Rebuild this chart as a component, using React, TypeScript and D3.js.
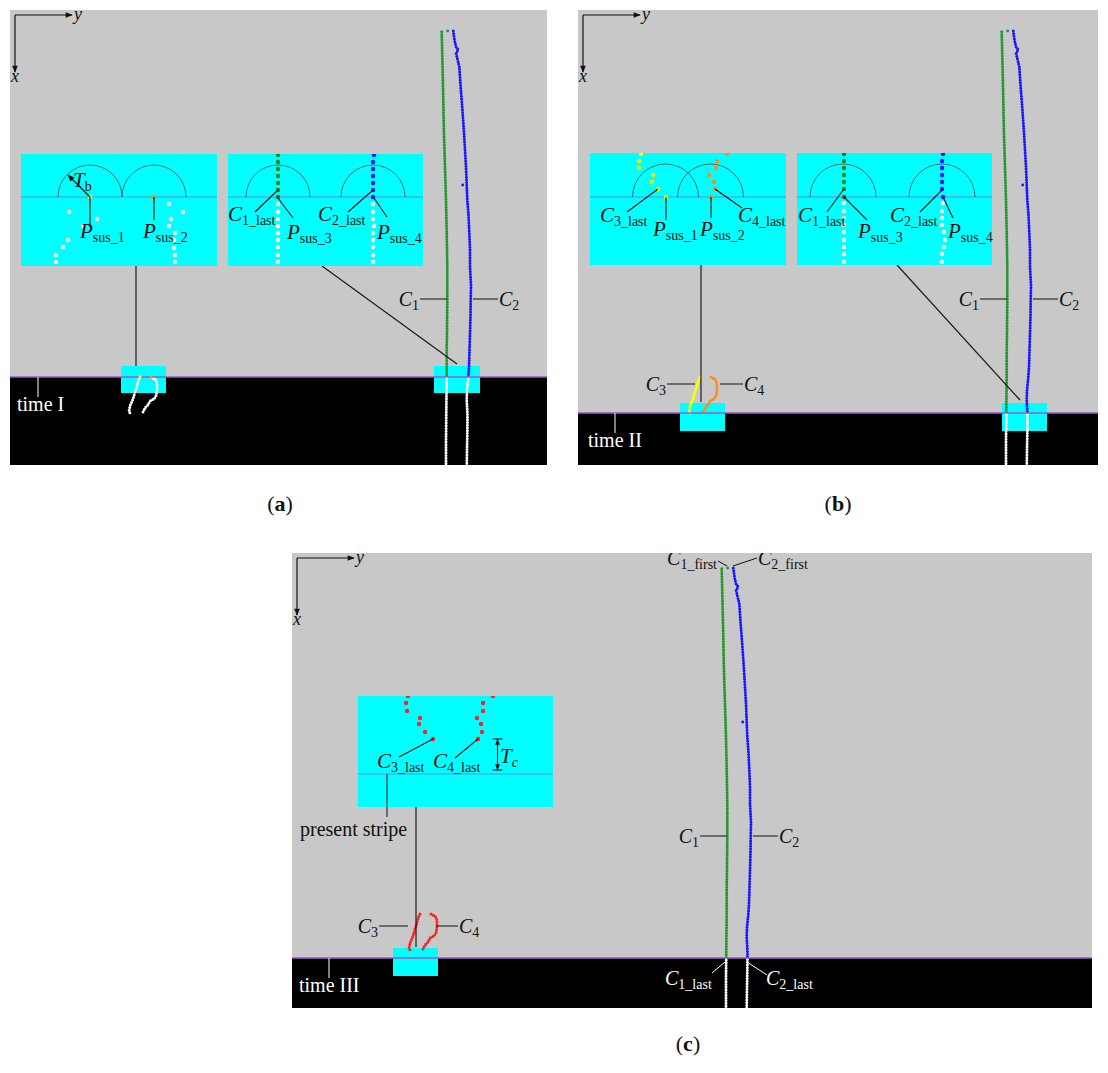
import React from 'react';
import * as d3 from 'd3';

type Pt = [number, number];
type Dot = [number, number, string];
// [main, sub, anchor, textX, textY, x1, y1, x2, y2]
type Label = [string, string, string, number, number, number, number, number, number];

const SERIF = '"Liberation Serif", "Times New Roman", "DejaVu Serif", serif';

const GRAY = '#c8c8c8';
const CYAN = '#00ffff';
const STRIPE = '#9a58d2';
const INSET_LINE = '#6d8ae0';
const GREEN = '#22962a';
const BLUE = '#1717ff';
const dotColors: Record<string, string> = {
  w: '#ffffff',
  y: '#ffff00',
  o: '#ff8a1e',
  g: '#1f821f',
  G: '#3a6a1c',
  b: '#1717ff',
  r: '#ff2020',
};

// ---- panels (page px) ----
const panelNames = ['a', 'b', 'c'];
const panelLeft = [10, 578, 292];
const panelTop = [10, 10, 553];
const panelWidth = [537, 520, 800];
const panelHeight = [455, 455, 455];
// image frame -> page offset
const imgDX = [10, 570, 290];
const imgDY = [10, 10, 547];
// row where the black part starts
const stripeRow = [367, 403, 411];
const timeLabels = ['time I', 'time II', 'time III'];
const timeTextDX = [7, 10, 7];
const timeTickDX = [28, 37, 37];
const captionX = [280, 838, 688];
const captionY = [511, 511, 1051];
const c3Color = ['#ffff00', '#ffff00', '#ff2020'];
const c4Color = ['#ff8a1e', '#ff8a1e', '#ff2020'];

// ---- tracks in image coords [col, row] ----
const trackC1: Pt[] = [
  [431.7, 21.7], [432.5, 55], [433.3, 90], [434, 125], [435, 157], [436, 190],
  [436.7, 223], [437.3, 257], [437.3, 290], [437, 320], [436.7, 340], [436.7, 367],
  [436.3, 400], [436, 430], [436, 462],
];
const trackC2: Pt[] = [
  [443.3, 21], [444.5, 30], [446, 36.7], [448.3, 40], [446, 43], [449.3, 56.7],
  [450.5, 75], [451.7, 90], [453, 108], [454, 123], [455, 140], [456, 157],
  [457.3, 190], [458.5, 205], [459.3, 223], [460, 240], [460, 257], [461, 275],
  [460.7, 290], [460.5, 305], [460, 323], [459.5, 340], [459, 357], [458.3, 367],
  [457, 380], [456.7, 390], [457.5, 405], [457.3, 423], [457, 440], [456.7, 462],
];
const trackC3: Pt[] = [
  [130, 367], [128, 371], [127, 376], [125, 382], [123, 389], [120, 396], [119, 401], [121, 405],
];
const trackC4: Pt[] = [
  [141, 367], [145, 369], [147, 373], [147, 380], [146, 386], [144, 389],
  [140, 391], [138, 395], [135, 398], [132, 404],
];
const strayDots: Dot[] = [[437.7, 21, 'g'], [452.7, 175, 'b']];
const susDotsA: Dot[] = [[130, 367, 'y'], [141, 367, 'o']];

// small cyan windows per panel [col, row, w, h]
const boxes: number[][][] = [
  [[111, 356, 45, 27], [424, 356, 46, 27]],
  [[110, 393, 45, 28], [432, 393, 45, 28]],
  [[103, 401, 45, 28]],
];
// connectors [insetIndex, insetLocalX, col, row]
const connectors: number[][][] = [
  [[0, 115, 126, 356], [1, 94, 447, 354]],
  [[2, 111, 131, 392], [3, 100, 450, 390]],
  [[4, 58, 126, 400]],
];
const trackLabelsCommon: Label[] = [
  ['C', '1', 'end', 409, 296, 410, 289, 437, 289],
  ['C', '2', 'start', 489, 296, 463, 289, 488, 289],
];
const trackLabelsExtra: Label[][] = [
  [],
  [
    ['C', '3', 'end', 96, 381, 97, 374, 125, 374],
    ['C', '4', 'start', 174, 381, 150, 374, 173, 374],
  ],
  [
    ['C', '3', 'end', 88, 386, 89, 379, 118, 379],
    ['C', '4', 'start', 169, 386, 146, 379, 168, 379],
    ['C', '1_first', 'end', 427, 18, 428, 14, 437, 19],
    ['C', '2_first', 'start', 468, 18, 443, 19, 467, 11],
    ['C', '1_last', 'start', 375, 438, 435, 415, 422, 426],
    ['C', '2_last', 'start', 476, 438, 457, 415, 477, 428],
  ],
];

// ---- magnified insets (page px, local coords inside) ----
const insetNames = ['a1', 'a2', 'b1', 'b2', 'c1'];
const insetLeft = [21, 228, 590, 797, 358];
const insetTop = [154, 154, 153, 153, 696];
const insetWidth = [196, 195, 196, 195, 195];
const insetHeight = [112, 112, 112, 112, 111];
const insetLineY = [43, 43, 44, 44, 78];
const insetArcs: number[][] = [[69, 133], [50, 145], [75.5, 120.5], [46, 145], []];
const insetArcR = [32, 32, 33, 33, 0];

const insetDots: Dot[][] = [
  [
    [69, 43, 'y'], [133, 43, 'o'],
    [48, 58, 'w'], [76, 65, 'w'], [62, 72, 'w'], [47, 86, 'w'], [42, 93, 'w'], [35, 101, 'w'], [35, 108, 'w'],
    [148, 50, 'w'], [162, 58, 'w'], [150, 65, 'w'], [148, 72, 'w'], [154, 79, 'w'], [153, 86, 'w'],
    [153, 94, 'w'], [154, 101, 'w'], [154, 108, 'w'],
  ],
  [
    [50, 1, 'g'], [50, 8, 'g'], [50, 15, 'g'], [50, 22, 'g'], [50, 29, 'g'], [50, 36, 'g'], [50, 43, 'G'],
    [50, 50, 'w'], [50, 58, 'w'], [50, 65, 'w'], [50, 72, 'w'], [50, 79, 'w'], [50, 86, 'w'],
    [50, 93, 'w'], [50, 101, 'w'], [50, 108, 'w'],
    [146, 1, 'b'], [145, 8, 'b'], [145, 15, 'b'], [145, 22, 'b'], [145, 29, 'b'], [145, 36, 'b'], [145, 43, 'b'],
    [145, 50, 'w'], [145, 58, 'w'], [145, 65, 'w'], [146, 72, 'w'], [145, 79, 'w'], [145, 86, 'w'],
    [145, 93, 'w'], [145, 101, 'w'], [145, 108, 'w'],
  ],
  [
    [51, 1, 'y'], [49, 8, 'y'], [49, 15, 'y'], [63, 22, 'y'], [62, 29, 'y'], [68, 36, 'y'], [76, 44, 'y'],
    [137, 1, 'o'], [127, 8, 'o'], [126, 15, 'o'], [119, 22, 'o'], [124, 29, 'o'], [125, 36, 'o'], [121, 44, 'o'],
  ],
  [
    [47, 1, 'g'], [47, 8, 'g'], [47, 15, 'g'], [47, 22, 'g'], [47, 29, 'g'], [47, 36, 'g'], [47, 44, 'G'],
    [47, 50, 'w'], [47, 58, 'w'], [47, 65, 'w'], [47, 72, 'w'], [47, 79, 'w'], [47, 87, 'w'],
    [47, 94, 'w'], [47, 101, 'w'], [47, 109, 'w'],
    [146, 1, 'b'], [145, 8, 'b'], [145, 15, 'b'], [145, 22, 'b'], [145, 29, 'b'], [145, 36, 'b'], [146, 44, 'b'],
    [146, 50, 'w'], [145, 58, 'w'], [145, 65, 'w'], [145, 72, 'w'], [147, 79, 'w'], [148, 87, 'w'],
    [147, 94, 'w'], [145, 101, 'w'], [145, 109, 'w'],
  ],
  [
    [50, 0, 'r'], [48, 7, 'r'], [49, 15, 'r'], [62, 22, 'r'], [61, 28, 'r'], [67, 36, 'r'], [75, 43, 'r'],
    [135, 0, 'r'], [125, 7, 'r'], [125, 15, 'r'], [119, 22, 'r'], [123, 28, 'r'], [124, 36, 'r'], [120, 43, 'r'],
  ],
];

const insetLabels: Label[][] = [
  [
    ['P', 'sus_1', 'start', 59, 84, 69, 43, 69, 73],
    ['P', 'sus_2', 'start', 122, 84, 133, 43, 133, 66],
  ],
  [
    ['C', '1_last', 'start', 0, 67, 50, 36, 27, 58],
    ['P', 'sus_3', 'start', 59, 85, 50, 44, 65, 64],
    ['C', '2_last', 'start', 90, 67, 145, 36, 120, 58],
    ['P', 'sus_4', 'start', 149, 85, 146, 44, 159, 63],
  ],
  [
    ['C', '3_last', 'start', 10, 69, 68, 36, 37, 59],
    ['P', 'sus_1', 'start', 63, 83, 76, 44, 76, 67],
    ['P', 'sus_2', 'start', 110, 83, 121, 44, 121, 65],
    ['C', '4_last', 'start', 148, 69, 125, 36, 152, 55],
  ],
  [
    ['C', '1_last', 'start', 1, 69, 47, 36, 30, 59],
    ['P', 'sus_3', 'start', 61, 85, 47, 44, 70, 67],
    ['C', '2_last', 'start', 93, 69, 146, 36, 123, 59],
    ['P', 'sus_4', 'start', 151, 85, 146, 44, 156, 65],
  ],
  [
    ['C', '3_last', 'start', 19, 72, 75, 43, 41, 61],
    ['C', '4_last', 'start', 75, 72, 120, 43, 97, 62],
  ],
];
// T_b radius arrow in inset a1 [x1, y1, x2, y2, textX, textY]
const tbArrow = [69, 43, 47, 21, 52, 33];
// T_c gap in inset c1 [x, yTop, yBottom, textX, textY]
const tcGap = [139.5, 43, 74, 142, 67];
// "present stripe" note under inset c1 [tickX, tickY1, tickY2, textX, textY]
const stripeNote = [29, 78, 121, -58, 140];

const SubText = ({ x, y, main, sub, anchor = 'start', size = 20, subSize = 13, fill = '#111', subItalic = false }: any) => (
  <text x={x} y={y} fontSize={size} fill={fill} textAnchor={anchor} fontFamily={SERIF}>
    <tspan fontStyle="italic">{main}</tspan>
    <tspan fontSize={subSize} dy={4} fontStyle={subItalic ? 'italic' : 'normal'}>{sub}</tspan>
  </text>
);

const Panel = ({ i }: { i: number }) => {
  const n = panelNames[i];
  const x0 = panelLeft[i];
  const y0 = panelTop[i];
  const w = panelWidth[i];
  const h = panelHeight[i];
  const xs = d3.scaleLinear().domain([0, 100]).range([imgDX[i], imgDX[i] + 100]);
  const ys = d3.scaleLinear().domain([0, 100]).range([imgDY[i], imgDY[i] + 100]);
  const sy = ys(stripeRow[i]);
  const path = d3.line<Pt>().x(d => xs(d[0])).y(d => ys(d[1]));
  const tracks: [Pt[], string][] = [
    [trackC1, GREEN], [trackC2, BLUE], [trackC3, c3Color[i]], [trackC4, c4Color[i]],
  ];
  const dotted = { fill: 'none', strokeWidth: 3, strokeLinecap: 'round' as const, strokeDasharray: '0 2.7' };
  const labels = [...trackLabelsCommon, ...trackLabelsExtra[i]];
  const ax = x0 + 5;
  const ay = y0 + 5;

  return (
    <g>
      <defs>
        <clipPath id={`clip-${n}`}><rect x={x0} y={y0} width={w} height={h} /></clipPath>
        <clipPath id={`above-${n}`}><rect x={x0} y={y0} width={w} height={sy - y0} /></clipPath>
        <clipPath id={`below-${n}`}><rect x={x0} y={sy} width={w} height={y0 + h - sy} /></clipPath>
      </defs>
      <g clipPath={`url(#clip-${n})`}>
        <rect x={x0} y={y0} width={w} height={h} fill={GRAY} />
        <rect x={x0} y={sy} width={w} height={y0 + h - sy} fill="#000" />
        {boxes[i].map((b, k) => (
          <rect key={k} x={xs(b[0])} y={ys(b[1])} width={b[2]} height={b[3]} fill={CYAN} />
        ))}
        <g clipPath={`url(#above-${n})`}>
          {tracks.map(([t, c], k) => <path key={k} d={path(t) || ''} stroke={c} {...dotted} />)}
        </g>
        <g clipPath={`url(#below-${n})`}>
          {tracks.map(([t], k) => <path key={k} d={path(t) || ''} stroke="#fff" {...dotted} />)}
        </g>
        <line x1={x0} x2={x0 + w} y1={sy} y2={sy} stroke={STRIPE} strokeWidth={1.3} />
        {strayDots.map((d, k) => (
          <circle key={k} cx={xs(d[0])} cy={ys(d[1])} r={1.4} fill={d[2] === 'g' ? GREEN : BLUE} />
        ))}
        {i === 0 && susDotsA.map((d, k) => (
          <circle key={k} cx={xs(d[0])} cy={ys(d[1])} r={1.5} fill={dotColors[d[2]]} />
        ))}
        {connectors[i].map((c, k) => (
          <line key={k}
            x1={insetLeft[c[0]] + c[1]} y1={insetTop[c[0]] + insetHeight[c[0]]}
            x2={xs(c[2])} y2={ys(c[3])}
            stroke="#1a1a1a" strokeWidth={1.2} />
        ))}
        {/* axes */}
        <line x1={ax} y1={ay} x2={ax + 57} y2={ay} stroke="#111" strokeWidth={1.2} markerEnd="url(#arr)" />
        <line x1={ax} y1={ay} x2={ax} y2={ay + 57} stroke="#111" strokeWidth={1.2} markerEnd="url(#arr)" />
        <text x={ax + 59} y={ay + 5} fontSize={18} fontStyle="italic" fontFamily={SERIF} fill="#111">y</text>
        <text x={ax - 4} y={ay + 67} fontSize={18} fontStyle="italic" fontFamily={SERIF} fill="#111">x</text>
        {labels.map((l, k) => {
          const ink = l[4] > stripeRow[i] ? '#fff' : '#111';
          return (
            <g key={k}>
              <line x1={xs(l[5])} y1={ys(l[6])} x2={xs(l[7])} y2={ys(l[8])} stroke={ink} strokeWidth={1} />
              <SubText x={xs(l[3])} y={ys(l[4])} main={l[0]} sub={l[1]} anchor={l[2]} size={20} subSize={14} fill={ink} />
            </g>
          );
        })}
        <line x1={x0 + timeTickDX[i]} x2={x0 + timeTickDX[i]} y1={sy} y2={sy + 20} stroke="#fff" strokeWidth={1} />
        <text x={x0 + timeTextDX[i]} y={sy + 34} fontSize={20} fill="#fff" fontFamily={SERIF}>{timeLabels[i]}</text>
      </g>
      <text x={captionX[i]} y={captionY[i]} fontSize={22} textAnchor="middle" fontFamily={SERIF} fill="#111">
        (<tspan fontWeight="bold">{n}</tspan>)
      </text>
    </g>
  );
};

const Inset = ({ k }: { k: number }) => {
  const x0 = insetLeft[k];
  const y0 = insetTop[k];
  const w = insetWidth[k];
  const h = insetHeight[k];
  const xs = d3.scaleLinear().domain([0, 100]).range([x0, x0 + 100]);
  const ys = d3.scaleLinear().domain([0, 100]).range([y0, y0 + 100]);
  const ly = ys(insetLineY[k]);
  const arcs = insetArcs[k].map(cx => {
    const p = d3.path();
    const r = insetArcR[k];
    p.moveTo(xs(cx) - r, ly);
    p.arc(xs(cx), ly, r, Math.PI, 2 * Math.PI);
    return p.toString();
  });
  return (
    <g>
      <defs>
        <clipPath id={`inset-${insetNames[k]}`}><rect x={x0} y={y0} width={w} height={h} /></clipPath>
      </defs>
      <rect x={x0} y={y0} width={w} height={h} fill={CYAN} />
      <g clipPath={`url(#inset-${insetNames[k]})`}>
        <line x1={x0} x2={x0 + w} y1={ly} y2={ly} stroke={INSET_LINE} strokeWidth={1.1} />
        {arcs.map((d, j) => <path key={j} d={d} fill="none" stroke="#4b4b4b" strokeWidth={0.8} />)}
        {insetDots[k].map((d, j) => (
          <circle key={j} cx={xs(d[0])} cy={ys(d[1])} r={2.2} fill={dotColors[d[2]]} />
        ))}
      </g>
      {insetLabels[k].map((l, j) => (
        <g key={j}>
          <line x1={xs(l[5])} y1={ys(l[6])} x2={xs(l[7])} y2={ys(l[8])} stroke="#111" strokeWidth={1.1} />
          <SubText x={xs(l[3])} y={ys(l[4])} main={l[0]} sub={l[1]} anchor={l[2]} size={21} subSize={14} />
        </g>
      ))}
      {k === 0 && (
        <g>
          <line x1={xs(tbArrow[0])} y1={ys(tbArrow[1])} x2={xs(tbArrow[2])} y2={ys(tbArrow[3])}
            stroke="#111" strokeWidth={1.2} markerEnd="url(#arr)" />
          <SubText x={xs(tbArrow[4])} y={ys(tbArrow[5])} main="T" sub="b" size={21} subSize={14} />
        </g>
      )}
      {k === 4 && (
        <g>
          <line x1={xs(tcGap[0]) - 5} x2={xs(tcGap[0]) + 5} y1={ys(tcGap[1])} y2={ys(tcGap[1])} stroke="#111" strokeWidth={1.1} />
          <line x1={xs(tcGap[0]) - 5} x2={xs(tcGap[0]) + 5} y1={ys(tcGap[2])} y2={ys(tcGap[2])} stroke="#111" strokeWidth={1.1} />
          <line x1={xs(tcGap[0])} x2={xs(tcGap[0])} y1={ys(tcGap[1])} y2={ys(tcGap[2])}
            stroke="#111" strokeWidth={1.1} markerStart="url(#arrS)" markerEnd="url(#arrS)" />
          <SubText x={xs(tcGap[3])} y={ys(tcGap[4])} main="T" sub="c" size={21} subSize={14} subItalic />
          <line x1={xs(stripeNote[0])} x2={xs(stripeNote[0])} y1={ys(stripeNote[1])} y2={ys(stripeNote[2])}
            stroke="#111" strokeWidth={1} />
          <text x={xs(stripeNote[3])} y={ys(stripeNote[4])} fontSize={20} fill="#111" fontFamily={SERIF}>
            present stripe
          </text>
        </g>
      )}
    </g>
  );
};

export default function App() {
  return (
    <div style={{ position: 'absolute', left: 0, top: 0 }}>
      <svg width={1108} height={1073} style={{ display: 'block', background: '#fff' }}>
        <defs>
          <marker id="arr" viewBox="0 0 10 10" refX="9" refY="5" markerWidth="9" markerHeight="7"
            markerUnits="userSpaceOnUse" orient="auto-start-reverse">
            <path d="M0,1 L10,5 L0,9 z" fill="#111" />
          </marker>
          <marker id="arrS" viewBox="0 0 10 10" refX="9.5" refY="5" markerWidth="7" markerHeight="6"
            markerUnits="userSpaceOnUse" orient="auto-start-reverse">
            <path d="M0,1 L10,5 L0,9 z" fill="#111" />
          </marker>
        </defs>
        {panelNames.map((n, i) => <Panel key={n} i={i} />)}
        {insetNames.map((n, k) => <Inset key={n} k={k} />)}
      </svg>
    </div>
  );
}
